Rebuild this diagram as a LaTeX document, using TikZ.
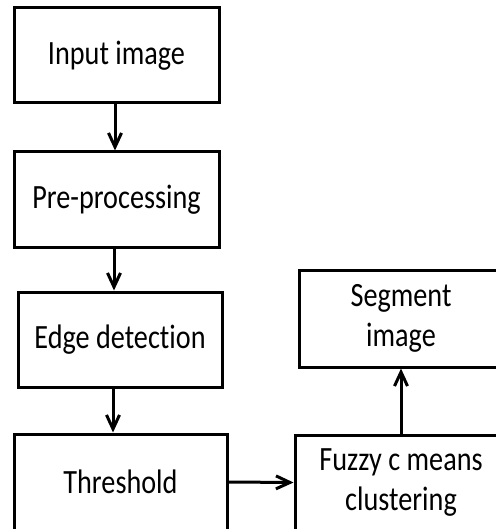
\documentclass[tikz,border=0pt]{standalone}
\usepackage{fontspec}
\setmainfont{Carlito}[FakeStretch=0.83, RawFeature=-liga]
\usetikzlibrary{arrows.meta}
\tikzset{
  stagebox/.style={draw=black, line width=1.5pt, align=center, minimum width=#1, minimum height=47.5pt, inner sep=0pt},
  stagebox/.default=102.5pt,
  flow/.style={->, line width=1.5pt}
}

\begin{document}
\begin{tikzpicture}[x=0.5pt, y=-0.5pt, >={Straight Barb[length=7pt,width=6.5pt,line width=1.5pt]}, font=\fontsize{17}{20}\selectfont]
        \useasboundingbox (0,0) rectangle (496,529);
        \clip (0,0) rectangle (496,529);
        % the main chain, top to bottom
        \node[stagebox] (input) at (116.5,55.5) {Input image};
        \node[stagebox] (preproc) at (116.5,199.5) {Pre-processing};
        \node[stagebox=102pt] (edge) at (120,339.5) {Edge detection};
        \node[stagebox=106.5pt, minimum height=48pt] (thresh) at (120.5,482) {Threshold};
        % clustering and result
        \node[stagebox=106pt] (fuzzy) at (401,482.5) {Fuzzy c means\\clustering};
        \node[stagebox=102pt, minimum height=48.5pt] (segment) at (401,318.5) {Segment\\image};
        \draw[flow] (input.south -| 115,0) -- (preproc.north -| 115,0);
        \draw[flow] (preproc.south -| 114,0) -- (edge.north -| 114,0);
        \draw[flow] (edge.south -| 113,0) -- (thresh.north -| 113,0);
        \draw[flow] (thresh.east) -- (fuzzy.west);
        \draw[flow] (fuzzy.north) -- (segment.south);
      \end{tikzpicture}
\end{document}
